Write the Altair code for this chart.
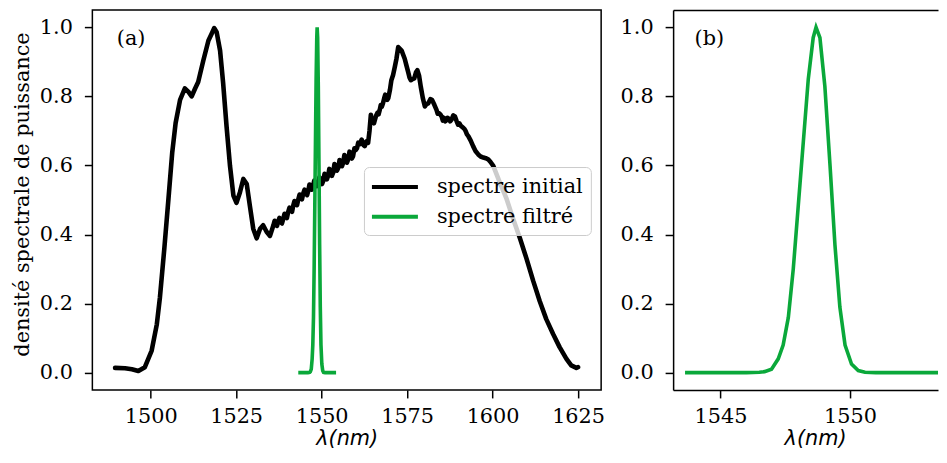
import altair as alt
import pandas as pd

# ---------------- data ----------------
wl_initial = [
    1489.6, 1492.5, 1494.5, 1496.4, 1498.3, 1500.3, 1501.8, 1502.7, 1504.0, 1505.2,
    1506.3, 1507.3, 1508.6, 1510.0, 1511.0, 1512.0, 1513.0, 1513.9, 1515.4, 1516.9,
    1517.8, 1518.6, 1519.3, 1520.3, 1521.2, 1522.2, 1523.2, 1524.2, 1525.1, 1526.1,
    1527.1, 1528.1, 1529.0, 1530.0, 1531.0, 1532.0, 1532.9, 1533.9, 1534.9,
    1535.9, 1536.25, 1536.6, 1536.95, 1537.3, 1537.65, 1538.0, 1538.4, 1538.8, 1539.15,
    1539.5, 1539.85, 1540.2, 1540.6, 1541.0, 1541.35, 1541.7, 1542.05, 1542.4, 1542.8,
    1543.2, 1543.55, 1543.9, 1544.25, 1544.6, 1545.0, 1545.4, 1545.75, 1546.1, 1546.45,
    1546.8, 1547.15, 1547.5, 1547.85, 1548.2, 1548.6, 1549.0, 1549.35, 1549.7, 1550.1,
    1550.5, 1550.85, 1551.2, 1551.55, 1551.9, 1552.25, 1552.6, 1553.0, 1553.4, 1553.75,
    1554.1, 1554.5, 1554.9, 1555.25, 1555.6, 1555.95, 1556.3, 1556.65, 1557.0, 1557.4,
    1557.8, 1558.15, 1558.5, 1558.85, 1559.2, 1559.6, 1560.0, 1560.35, 1560.7, 1561.2,
    1561.7, 1562.2, 1562.6, 1563.1, 1563.6, 1564.0, 1564.4, 1564.7, 1565.0, 1565.3,
    1565.6, 1565.95, 1566.3, 1566.65, 1567.0, 1567.3, 1567.6, 1567.95, 1568.3, 1568.6,
    1568.9, 1569.2, 1569.5, 1570.0, 1570.4, 1570.9, 1571.4, 1571.9, 1572.4, 1572.9,
    1573.4, 1573.8, 1574.3, 1574.8, 1575.3, 1575.7, 1576.1, 1576.6, 1577.1, 1577.6,
    1578.0, 1578.5, 1579.0, 1579.6, 1580.2, 1580.7, 1581.2, 1581.8, 1582.3, 1583.0,
    1583.6, 1583.95, 1584.3, 1584.7, 1585.1, 1585.45, 1585.8, 1586.15, 1586.5, 1586.85,
    1587.2, 1587.6, 1588.0, 1588.5, 1589.0, 1589.5, 1589.9, 1590.3, 1590.7, 1591.05,
    1591.4, 1591.75, 1592.1, 1592.5, 1592.9, 1593.6, 1594.3, 1595.0, 1595.8, 1596.5,
    1597.3, 1598.0, 1598.7, 1599.4, 1600.2, 1602.1, 1604.1, 1606.0, 1608.0, 1609.9,
    1611.9, 1613.8, 1615.7, 1617.7, 1619.6, 1621.6, 1623.0, 1624.5, 1625.0,
]
psd_initial = [
    0.014, 0.013, 0.010, 0.005, 0.016, 0.064, 0.140, 0.217, 0.360, 0.503,
    0.637, 0.723, 0.790, 0.823, 0.814, 0.800, 0.823, 0.842, 0.904, 0.962,
    0.981, 0.998, 0.986, 0.933, 0.838, 0.713, 0.599, 0.513, 0.492, 0.522,
    0.561, 0.546, 0.484, 0.417, 0.389, 0.417, 0.427, 0.408, 0.396,
    0.427, 0.440, 0.430, 0.425, 0.438, 0.448, 0.436, 0.432, 0.446, 0.460,
    0.452, 0.448, 0.465, 0.478, 0.470, 0.466, 0.484, 0.497, 0.488, 0.485,
    0.503, 0.516, 0.506, 0.502, 0.518, 0.530, 0.520, 0.514, 0.527, 0.545,
    0.540, 0.530, 0.542, 0.556, 0.550, 0.540, 0.548, 0.566, 0.560, 0.546,
    0.556, 0.576, 0.572, 0.560, 0.570, 0.590, 0.585, 0.570, 0.580, 0.604,
    0.600, 0.585, 0.594, 0.616, 0.612, 0.598, 0.608, 0.630, 0.625, 0.608,
    0.618, 0.640, 0.635, 0.620, 0.627, 0.650, 0.645, 0.650, 0.666, 0.662,
    0.675, 0.660, 0.656, 0.670, 0.666, 0.700, 0.747, 0.728, 0.735, 0.722,
    0.733, 0.745, 0.752, 0.748, 0.761, 0.775, 0.770, 0.780, 0.795, 0.805,
    0.800, 0.790, 0.795, 0.820, 0.847, 0.862, 0.885, 0.910, 0.943, 0.938,
    0.933, 0.922, 0.909, 0.890, 0.871, 0.855, 0.847, 0.850, 0.852, 0.870,
    0.876, 0.860, 0.828, 0.795, 0.771, 0.778, 0.780, 0.792, 0.790, 0.775,
    0.761, 0.750, 0.752, 0.748, 0.742, 0.730, 0.738, 0.728, 0.731, 0.738,
    0.735, 0.728, 0.733, 0.745, 0.742, 0.728, 0.718, 0.722, 0.715, 0.712,
    0.709, 0.706, 0.700, 0.690, 0.685, 0.672, 0.656, 0.642, 0.632, 0.626,
    0.623, 0.621, 0.618, 0.610, 0.599, 0.551, 0.503, 0.446, 0.389, 0.331,
    0.265, 0.207, 0.155, 0.112, 0.074, 0.040, 0.021, 0.014, 0.016,
]

wl_filtre = [
    1543.7, 1545.0, 1546.0, 1546.5, 1546.7, 1546.97, 1547.23, 1547.42, 1547.62, 1547.81,
    1548.0, 1548.2, 1548.39, 1548.58, 1548.69, 1548.84, 1549.03, 1549.23, 1549.42, 1549.61,
    1549.81, 1550.06, 1550.32, 1550.58, 1551.0, 1552.0, 1553.7,
]
psd_filtre = [
    0.0, 0.0, 0.0, 0.001, 0.003, 0.01, 0.04, 0.08, 0.16, 0.30,
    0.48, 0.67, 0.85, 0.97, 1.0, 0.97, 0.83, 0.60, 0.37, 0.19,
    0.08, 0.025, 0.006, 0.001, 0.0, 0.0, 0.0,
]

series_names = ["spectre initial", "spectre filtré"]
series_colors = ["#000000", "#0aa83a"]
x_ticks_a = [1500, 1525, 1550, 1575, 1600, 1625]
x_ticks_b = [1545, 1550]
y_ticks = [0.0, 0.2, 0.4, 0.6, 0.8, 1.0]
panel_labels = ["(a)", "(b)"]
panel_label_x = [1490.1, 1544.0]
panel_label_y = [0.966, 0.966]

x_dom_a = [1482.95, 1631.75]
x_dom_b = [1543.17, 1553.40]
y_dom = [-0.05, 1.05]

df_init = pd.DataFrame({"wl": wl_initial, "psd": psd_initial, "serie": series_names[0]})
df_filt = pd.DataFrame({"wl": wl_filtre, "psd": psd_filtre, "serie": series_names[1]})
df_lab_a = pd.DataFrame({"wl": [panel_label_x[0]], "psd": [panel_label_y[0]], "t": [panel_labels[0]]})
df_lab_b = pd.DataFrame({"wl": [panel_label_x[1]], "psd": [panel_label_y[1]], "t": [panel_labels[1]]})

FS = 20.8
SERIF = "DejaVu Serif"
PLOT_H = 380

color_scale = alt.Scale(domain=series_names, range=series_colors)
legend = alt.Legend(
    title=None, orient="none", legendX=271.7, legendY=157,
    symbolType="M-2.3,0H2.3", symbolSize=400, symbolStrokeWidth=4,
    symbolOffset=11, labelOffset=30, rowPadding=7.7, padding=8,
    fillColor="rgba(255,255,255,0.8)", strokeColor="#cccccc", cornerRadius=5,
    labelFont=SERIF, labelFontSize=FS, labelColor="black", labelLimit=400,
)

xa_axis = alt.Axis(values=x_ticks_a, format="d", labelPadding=9, labelFlush=False,
                   title="λ(nm)", titleFont="DejaVu Sans", titleFontStyle="italic",
                   titleFontSize=FS, titlePadding=1.5, domain=False)
ya_axis = alt.Axis(values=y_ticks, format=".1f", labelPadding=12,
                   title="densité spectrale de puissance", titleFont=SERIF,
                   titleFontSize=FS, titlePadding=6.5, titleY=184, domain=False)

xa_scale = alt.Scale(domain=x_dom_a, nice=False, zero=False)
ya_scale = alt.Scale(domain=y_dom, nice=False, zero=False)
xa = alt.X("wl:Q", scale=xa_scale, axis=xa_axis)
ya = alt.Y("psd:Q", scale=ya_scale, axis=ya_axis)

black_a = alt.Chart(df_init).mark_line(strokeWidth=4.6, strokeJoin="round", strokeCap="round", clip=True).encode(
    x=xa, y=ya, color=alt.Color("serie:N", scale=color_scale, legend=legend))
green_a = alt.Chart(df_filt).mark_line(strokeWidth=3.6, strokeCap="square", clip=True).encode(
    x=xa, y=ya, color=alt.Color("serie:N", scale=color_scale, legend=legend))
text_a = alt.Chart(df_lab_a).mark_text(align="left", baseline="middle", font=SERIF, fontSize=FS, color="black").encode(
    x=xa, y=ya, text="t:N")

left = alt.layer(black_a, green_a, text_a).properties(width=509, height=PLOT_H)

xb_axis = alt.Axis(values=x_ticks_b, format="d", labelPadding=9, labelFlush=False,
                   title="λ(nm)", titleFont="DejaVu Sans", titleFontStyle="italic",
                   titleFontSize=FS, titlePadding=1.5, titleX=142,
                   domain=True, domainColor="black", domainWidth=1.5)
yb_axis = alt.Axis(values=y_ticks, format=".1f", labelPadding=12, title=None,
                   domain=True, domainColor="black", domainWidth=1.5)
top_axis = alt.Axis(orient="top", labels=False, ticks=False, title=None,
                    domain=True, domainColor="black", domainWidth=1.5)

xb_scale = alt.Scale(domain=x_dom_b, nice=False, zero=False)
yb_scale = alt.Scale(domain=y_dom, nice=False, zero=False)

green_b = alt.Chart(df_filt).mark_line(strokeWidth=3.6, strokeCap="square", clip=True, color=series_colors[1]).encode(
    x=alt.X("wl:Q", scale=xb_scale, axis=xb_axis),
    y=alt.Y("psd:Q", scale=yb_scale, axis=yb_axis))
frame_top_b = alt.Chart(df_filt).mark_line(strokeOpacity=0, clip=True).encode(
    x=alt.X("wl:Q", scale=xb_scale, axis=top_axis),
    y=alt.Y("psd:Q", scale=yb_scale, axis=yb_axis))
text_b = alt.Chart(df_lab_b).mark_text(align="left", baseline="middle", font=SERIF, fontSize=FS, color="black").encode(
    x=alt.X("wl:Q", scale=xb_scale, axis=None),
    y=alt.Y("psd:Q", scale=yb_scale, axis=yb_axis), text="t:N")

right = alt.layer(green_b, frame_top_b, text_b).resolve_axis(x="independent").properties(
    width=265, height=PLOT_H, view=alt.ViewBackground(stroke="transparent"))

chart = alt.hconcat(left, right, spacing=72, bounds="flush").resolve_scale(color="independent").properties(
    padding={"left": 2.4, "top": 1, "right": 0, "bottom": 0}
).configure_view(stroke="black", strokeWidth=1.5).configure_axis(
    labelFont=SERIF, labelFontSize=FS, labelColor="black", tickColor="black",
    tickWidth=1.5, tickSize=8, grid=False, titleFontWeight="normal", titleColor="black",
)

chart.save("out.html", embed_options={"renderer": "svg", "actions": False})
